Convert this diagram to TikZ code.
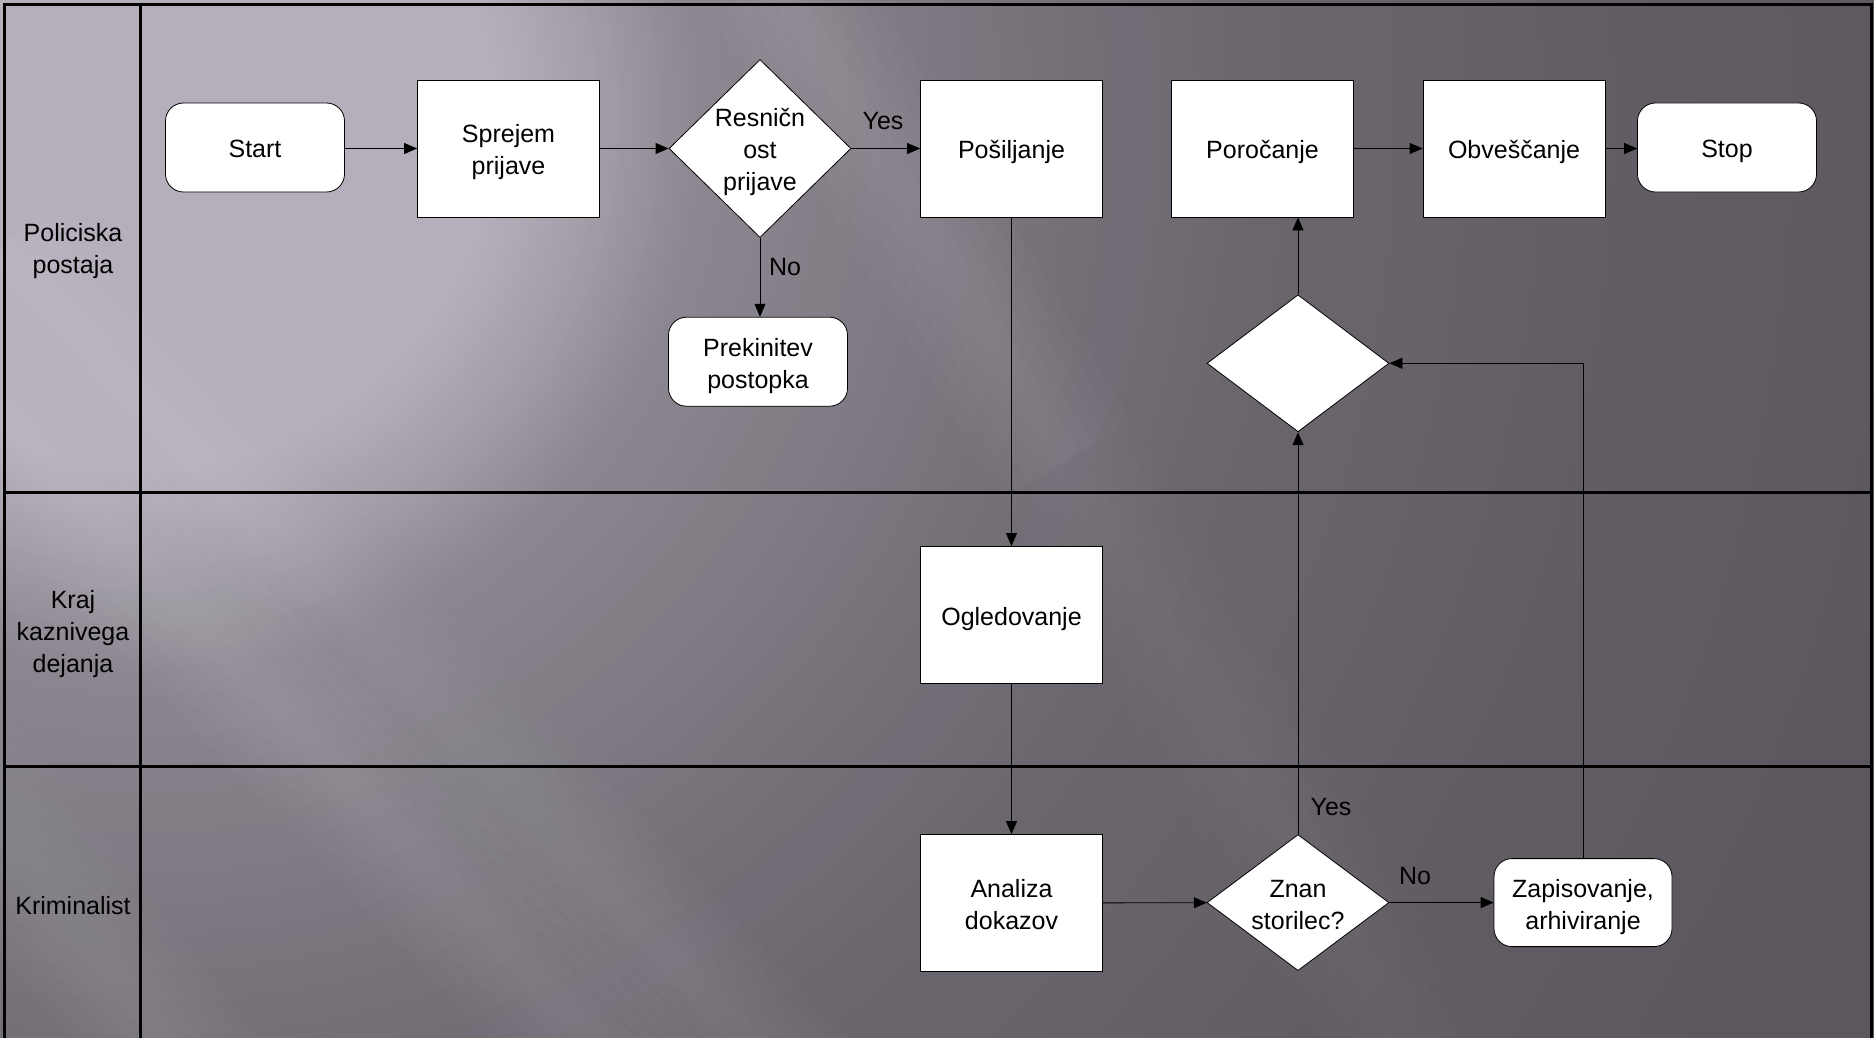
\documentclass[tikz,border=0pt]{standalone}
\usepackage{fontspec}
\setmainfont{Liberation Sans}
\usetikzlibrary{shapes.geometric,arrows.meta}
\definecolor{bgL}{HTML}{B5AFBB}
\definecolor{bgD}{HTML}{5B565D}
\newsavebox\txbox
\newcommand\txs[2]{\sbox\txbox{\begin{tabular}{@{}c@{}}#2\end{tabular}}\raisebox{-#1}[\ht\txbox][\dp\txbox]{\usebox\txbox}}
\newcommand\tx[1]{\txs{4pt}{#1}}
\tikzset{
  box/.style={draw=black, line width=0.8pt, fill=white, minimum width=182pt, minimum height=137pt, inner sep=2pt, text=black},
  term/.style={box, rounded corners=18pt, minimum width=179pt, minimum height=89pt},
  dec/.style={diamond, draw=black, fill=white, line width=0.8pt, minimum width=182pt, minimum height=137pt, inner sep=0pt},
  lane/.style={line width=3pt, black},
  arr/.style={line width=0.8pt, black, -{Triangle[length=13pt,width=11pt]}},
  lbl/.style={text=black, inner sep=0pt},
  lanelbl/.style={text=black, inner sep=0pt},
  streak/.style={white, line cap=butt}
}
\begin{document}
\begin{tikzpicture}[x=1pt,y=-1pt,font=\fontsize{25pt}{32pt}\selectfont]
\useasboundingbox (0,0) rectangle (1874,1038);
% background
\begin{scope}
\clip (0,0) rectangle (1874,1038);
\fill[bgD] (0,0) rectangle (1874,1038);
\foreach \r in {2000,1995,...,0} {
  \pgfmathtruncatemacro{\f}{\r<350 ? 100 : (\r<450 ? 100-(\r-350)*0.2 : (\r<550 ? 80-(\r-450)*0.25 : (\r<800 ? 55-(\r-550)*0.072 : (\r<1100 ? 37-(\r-800)*0.06 : (\r<1500 ? 19-(\r-1100)*0.0275 : (\r<1850 ? 8-(\r-1500)*0.02 : 1))))))}
  \fill[bgL!\f!bgD] (150,120) circle[radius=\r];
}
\foreach \w in {30,60,90,120,150} {
  \draw[streak, opacity=0.018, line width=\w] (700,-150) -- (1067,460);
  \draw[streak, opacity=0.009, line width=\w] (1067,460) -- (1500,1200);
  \draw[streak, opacity=0.02, line width=\w] (-300,100) -- (700,1150);
  \draw[streak, opacity=0.015, line width=\w] (0,250) -- (850,1150);
  \draw[streak, opacity=0.015, line width=\w] (-250,500) -- (250,1150);
}
\end{scope}
% lanes
\draw[lane] (4.7,1045) -- (4.7,4.7) -- (1871,4.7) -- (1871,1045);
\draw[lane] (4.7,492) -- (1871,492);
\draw[lane] (4.7,766) -- (1871,766);
\draw[lane] (140.7,4.7) -- (140.7,1045);
\node[lanelbl] (l1) at (73,250) {\txs{1.5pt}{Policiska\\postaja}};
\node[lanelbl] (l2) at (73,632) {\txs{2pt}{Kraj\\kaznivega\\dejanja}};
\node[lanelbl] (l3) at (73,904) {\tx{Kriminalist}};
% nodes
\node[term] (start) at (255,147.5) {\tx{Start}};
\node[box] (sprejem) at (508.5,148.5) {\tx{Sprejem\\prijave}};
\node[dec, minimum height=178pt, label={center:{\tx{Resničn\\ost\\prijave}}}] (res) at (760,148.5) {};
\node[term] (prek) at (758,361.7) {\tx{Prekinitev\\postopka}};
\node[box] (posil) at (1011.5,148.5) {\tx{Pošiljanje}};
\node[box] (poroc) at (1262.5,148.5) {\tx{Poročanje}};
\node[box] (obves) at (1514,148.5) {\tx{Obveščanje}};
\node[term] (stop) at (1727,147.5) {\tx{Stop}};
\node[dec] (dia2) at (1298,363.3) {};
\node[box] (ogled) at (1011.5,615) {\tx{Ogledovanje}};
\node[box] (analiza) at (1011.5,903) {\tx{Analiza\\dokazov}};
\node[dec, minimum height=136pt, label={center:{\tx{Znan\\storilec?}}}] (znan) at (1298,902.6) {};
\node[term, minimum width=178pt, minimum height=88pt] (zapis) at (1583,902.6) {\tx{Zapisovanje,\\arhiviranje}};
% connectors
\draw[arr] (start.east |- sprejem.west) -- (sprejem.west);
\draw[arr] (sprejem) -- (res);
\draw[arr] (res) -- (posil);
\draw[arr] (res.south) -- (res.south |- prek.north);
\draw[arr] (posil) -- (ogled);
\draw[arr] (ogled) -- (analiza);
\draw[arr] (analiza) -- (znan);
\draw[arr] (znan) -- (zapis);
\draw[arr] (znan) -- (dia2);
\draw[arr] (dia2.north) -- (dia2.north |- poroc.south);
\draw[arr] (zapis.north) |- (dia2.east);
\draw[arr] (poroc) -- (obves);
\draw[arr] (obves.east) -- (obves.east -| stop.west);
% labels
\node[lbl] (yes1) at (883,121) {Yes};
\node[lbl] (no1) at (785,267) {No};
\node[lbl] (yes2) at (1331,807) {Yes};
\node[lbl] (no2) at (1415,876) {No};
\end{tikzpicture}
\end{document}
